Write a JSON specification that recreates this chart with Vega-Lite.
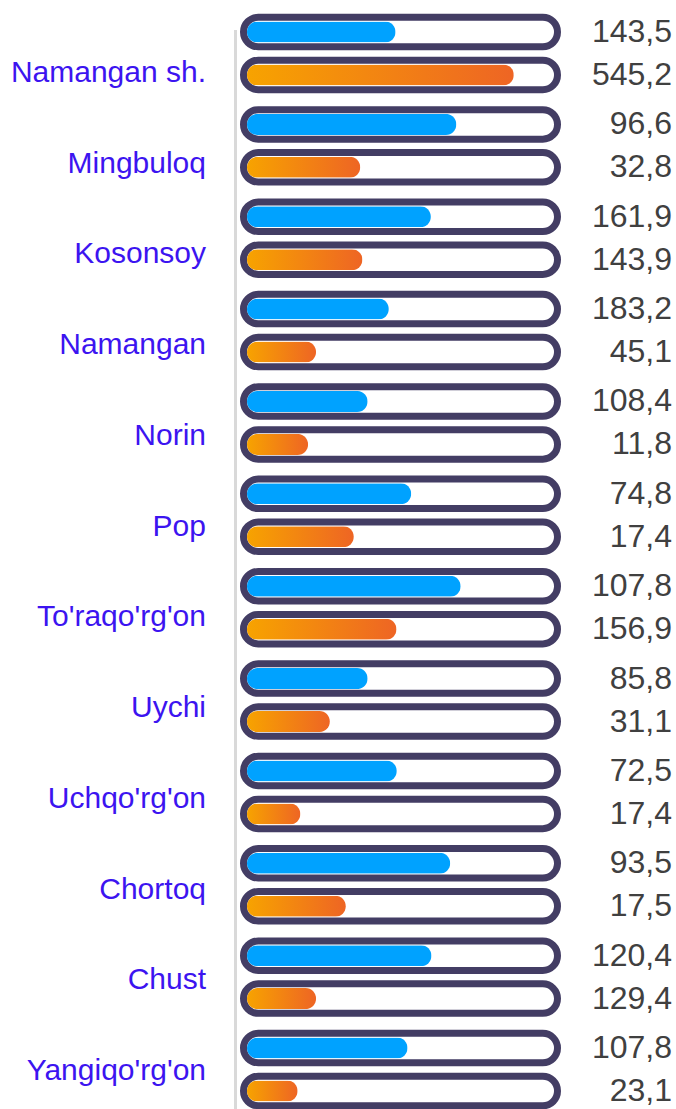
{
  "$schema": "https://vega.github.io/schema/vega-lite/v6.json",
  "autosize": {"type": "none"},
  "width": 307,
  "height": 1123,
  "padding": {"left": 247, "top": 0, "right": 122, "bottom": 0},
  "background": "white",
  "config": {
    "view": {"stroke": null},
    "locale": {"number": {"decimal": ",", "thousands": " ", "grouping": [3], "currency": ["", ""]}}
  },
  "data": {
    "values": [
      {"cat": "Namangan sh.", "series": "s1", "value": 143.5, "pct": 48.4},
      {"cat": "Namangan sh.", "series": "s2", "value": 545.2, "pct": 86.9},
      {"cat": "Mingbuloq", "series": "s1", "value": 96.6, "pct": 68.2},
      {"cat": "Mingbuloq", "series": "s2", "value": 32.8, "pct": 36.9},
      {"cat": "Kosonsoy", "series": "s1", "value": 161.9, "pct": 59.9},
      {"cat": "Kosonsoy", "series": "s2", "value": 143.9, "pct": 37.6},
      {"cat": "Namangan", "series": "s1", "value": 183.2, "pct": 46.2},
      {"cat": "Namangan", "series": "s2", "value": 45.1, "pct": 22.5},
      {"cat": "Norin", "series": "s1", "value": 108.4, "pct": 39.3},
      {"cat": "Norin", "series": "s2", "value": 11.8, "pct": 19.9},
      {"cat": "Pop", "series": "s1", "value": 74.8, "pct": 53.5},
      {"cat": "Pop", "series": "s2", "value": 17.4, "pct": 34.8},
      {"cat": "To'raqo'rg'on", "series": "s1", "value": 107.8, "pct": 69.6},
      {"cat": "To'raqo'rg'on", "series": "s2", "value": 156.9, "pct": 48.7},
      {"cat": "Uychi", "series": "s1", "value": 85.8, "pct": 39.3},
      {"cat": "Uychi", "series": "s2", "value": 31.1, "pct": 27.0},
      {"cat": "Uchqo'rg'on", "series": "s1", "value": 72.5, "pct": 48.8},
      {"cat": "Uchqo'rg'on", "series": "s2", "value": 17.4, "pct": 17.4},
      {"cat": "Chortoq", "series": "s1", "value": 93.5, "pct": 66.2},
      {"cat": "Chortoq", "series": "s2", "value": 17.5, "pct": 32.2},
      {"cat": "Chust", "series": "s1", "value": 120.4, "pct": 60.1},
      {"cat": "Chust", "series": "s2", "value": 129.4, "pct": 22.5},
      {"cat": "Yangiqo'rg'on", "series": "s1", "value": 107.8, "pct": 52.3},
      {"cat": "Yangiqo'rg'on", "series": "s2", "value": 23.1, "pct": 16.5}
    ]
  },
  "layer": [
    {
      "layer": [
        {
          "mark": {"type": "rule", "color": "#d9d9d9", "strokeWidth": 3, "xOffset": -11.5},
          "encoding": {
            "x": {"datum": 0, "type": "quantitative", "scale": {"domain": [0, 100], "nice": false, "zero": true}, "axis": null},
            "y": {"datum": "Namangan sh.", "type": "nominal", "bandPosition": 0.227,
                  "scale": {"type": "band", "domain": ["Namangan sh.", "Mingbuloq", "Kosonsoy", "Namangan", "Norin", "Pop", "To'raqo'rg'on", "Uychi", "Uchqo'rg'on", "Chortoq", "Chust", "Yangiqo'rg'on"], "paddingInner": 0.0708, "paddingOuter": 0.1143},
                  "axis": null},
            "y2": {"value": {"expr": "height"}}
          }
        },
        {
          "mark": {"type": "bar", "fill": "white", "stroke": "#433d64", "strokeWidth": 7, "height": 29.5, "cornerRadius": 14.75, "xOffset": -3.5, "x2Offset": 3.5},
          "encoding": {
            "x": {"datum": 0, "type": "quantitative", "axis": null},
            "x2": {"datum": 100},
            "y": {"field": "cat", "type": "nominal", "axis": null,
                  "scale": {"type": "band", "domain": ["Namangan sh.", "Mingbuloq", "Kosonsoy", "Namangan", "Norin", "Pop", "To'raqo'rg'on", "Uychi", "Uchqo'rg'on", "Chortoq", "Chust", "Yangiqo'rg'on"], "paddingInner": 0.0708, "paddingOuter": 0.1143}},
            "yOffset": {"field": "series", "type": "nominal", "scale": {"domain": ["s1", "s2"], "paddingInner": 0, "paddingOuter": 0}}
          }
        },
        {
          "transform": [{"filter": "datum.series === 's1'"}],
          "mark": {"type": "bar", "fill": "#00a2ff", "height": 21, "cornerRadius": 10.5},
          "encoding": {
            "x": {"field": "pct", "type": "quantitative", "axis": null},
            "y": {"field": "cat", "type": "nominal", "axis": null},
            "yOffset": {"field": "series", "type": "nominal"}
          }
        },
        {
          "transform": [{"filter": "datum.series === 's2'"}],
          "mark": {"type": "bar", "height": 21, "cornerRadius": 10.5,
                   "fill": {"gradient": "linear", "x1": 0, "x2": 1, "y1": 0, "y2": 0,
                            "stops": [{"offset": 0, "color": "#f7a300"}, {"offset": 1, "color": "#ee6524"}]}},
          "encoding": {
            "x": {"field": "pct", "type": "quantitative", "axis": null},
            "y": {"field": "cat", "type": "nominal", "axis": null},
            "yOffset": {"field": "series", "type": "nominal"}
          }
        },
        {
          "mark": {"type": "text", "align": "right", "baseline": "middle", "dx": 118, "fontSize": 32, "font": "Liberation Sans", "color": "#404040"},
          "encoding": {
            "x": {"datum": 100, "type": "quantitative", "axis": null},
            "y": {"field": "cat", "type": "nominal", "axis": null},
            "yOffset": {"field": "series", "type": "nominal"},
            "text": {"field": "value", "type": "quantitative", "format": ".1f"}
          }
        }
      ]
    },
    {
      "transform": [{"filter": "datum.series === 's1'"}],
      "mark": {"type": "text", "align": "right", "baseline": "middle", "dx": -41, "fontSize": 30, "font": "Liberation Sans", "color": "#3c14f0"},
      "encoding": {
        "x": {"datum": 0, "type": "quantitative", "axis": null},
        "y": {"field": "cat", "type": "nominal", "axis": null,
              "scale": {"type": "point", "domain": ["Namangan sh.", "Mingbuloq", "Kosonsoy", "Namangan", "Norin", "Pop", "To'raqo'rg'on", "Uychi", "Uchqo'rg'on", "Chortoq", "Chust", "Yangiqo'rg'on"], "padding": 0.6886, "align": 0.584}},
        "text": {"field": "cat", "type": "nominal"}
      }
    }
  ],
  "resolve": {"scale": {"y": "independent"}}
}
